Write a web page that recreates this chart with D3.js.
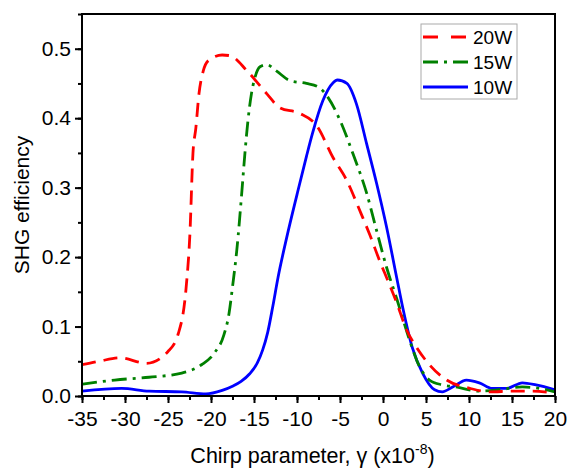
<!DOCTYPE html>
<html>
<head>
<meta charset="utf-8">
<script src="https://cdn.jsdelivr.net/npm/d3@7"></script>
<style>
	body { margin: 0; background: #fff; }
	text { font-family: "Liberation Sans", Arial, sans-serif; }
</style>
</head>
<body>
<div id="wrapper"></div>
<script>
// chirp parameter (x1e-8) and SHG efficiency
const red20X = [-35, -33, -30.6, -27.5, -25, -23.8, -22.9, -22.45, -22.1, -21.76, -21.4, -20.9, -20.3, -18.7, -17.8, -15.8, -13.5, -12, -9.7, -7.7, -5.8, -4.2, -2.7, -1.5, -0.4, 0.6, 1.6, 2.75, 3.9, 5.4, 7.4, 10.1, 12.4, 15.1, 17.4, 20];
const red20Y = [0.045, 0.05, 0.055, 0.047, 0.064, 0.09, 0.155, 0.234, 0.349, 0.386, 0.435, 0.468, 0.483, 0.491, 0.49, 0.468, 0.435, 0.415, 0.407, 0.389, 0.343, 0.31, 0.267, 0.231, 0.195, 0.165, 0.134, 0.095, 0.07, 0.045, 0.023, 0.011, 0.006, 0.007, 0.007, 0.004];

const green15X = [-35, -31.2, -27.2, -23.4, -21.1, -19.6, -18.5, -17.9, -17.5, -17.0, -16.4, -16.1, -15.7, -15.3, -14.9, -14.3, -13.5, -12.4, -10.8, -8.9, -7.4, -6.4, -5, -3.5, -1.9, -0.74, 0.42, 1.6, 3.1, 4.26, 5.4, 6.9, 8.5, 11.2, 13.5, 16.2, 18.2, 20];
const green15Y = [0.017, 0.023, 0.027, 0.033, 0.045, 0.062, 0.088, 0.119, 0.157, 0.21, 0.296, 0.343, 0.397, 0.435, 0.458, 0.474, 0.477, 0.468, 0.454, 0.45, 0.444, 0.43, 0.397, 0.349, 0.292, 0.238, 0.185, 0.14, 0.08, 0.042, 0.023, 0.016, 0.013, 0.007, 0.009, 0.013, 0.011, 0.006];

const blue10X = [-35, -30.4, -27.2, -23.4, -20.6, -18.7, -17.5, -16.5, -15.5, -14.6, -14, -13.4, -12.8, -12.2, -11.2, -10, -8.9, -8.2, -7.0, -5.8, -5.3, -4.2, -3.1, -1.9, -0.74, 0.42, 1.6, 2.3, 3.4, 4.6, 6.0, 6.9, 8.1, 9.7, 11.2, 12.7, 14.4, 16.2, 17.8, 20];
const blue10Y = [0.007, 0.011, 0.007, 0.006, 0.003, 0.008, 0.014, 0.021, 0.032, 0.048, 0.066, 0.092, 0.13, 0.171, 0.228, 0.29, 0.345, 0.378, 0.425, 0.451, 0.455, 0.45, 0.421, 0.363, 0.306, 0.243, 0.17, 0.127, 0.07, 0.033, 0.009, 0.006, 0.013, 0.023, 0.019, 0.011, 0.011, 0.019, 0.016, 0.009];

const seriesNames = ["20W", "15W", "10W"];
const seriesColors = ["#ff0000", "#008000", "#0000ff"];
const seriesDash = ["14,8", "15,6,3,6", null];

const xTicks = [-35, -30, -25, -20, -15, -10, -5, 0, 5, 10, 15, 20];
const yTicks = [0.0, 0.1, 0.2, 0.3, 0.4, 0.5];

function drawChart(){
	const dimensions = {
		width: 569,
		height: 468,
		margin: { top: 14, right: 14, bottom: 72, left: 82 }
	};
	dimensions.boundedWidth = dimensions.width - dimensions.margin.left - dimensions.margin.right;
	dimensions.boundedHeight = dimensions.height - dimensions.margin.top - dimensions.margin.bottom;

	const wrapper = d3.select("#wrapper").append("svg")
		.attr("width", dimensions.width)
		.attr("height", dimensions.height);

	const bounds = wrapper.append("g")
		.attr("transform", `translate(${dimensions.margin.left},${dimensions.margin.top})`);

	const xScaler = d3.scaleLinear().domain([-35, 20]).range([0, dimensions.boundedWidth]);
	const yScaler = d3.scaleLinear().domain([0, 0.55]).range([dimensions.boundedHeight, 0]);

	const series = [
		d3.zip(red20X, red20Y),
		d3.zip(green15X, green15Y),
		d3.zip(blue10X, blue10Y)
	];

	const lineGen = d3.line()
		.x(d => xScaler(d[0]))
		.y(d => yScaler(d[1]))
		.curve(d3.curveMonotoneX);

	// draw 10W first so dashed lines sit on top like the original
	[2, 1, 0].forEach(i => {
		bounds.append("path")
			.attr("d", lineGen(series[i]))
			.attr("fill", "none")
			.attr("stroke", seriesColors[i])
			.attr("stroke-width", 2.8)
			.attr("stroke-dasharray", seriesDash[i]);
	});

	// minor ticks
	const xMinor = d3.range(-35, 20.01, 2.5);
	const yMinor = d3.range(0, 0.551, 0.05);
	bounds.append("g")
		.attr("transform", `translate(0,${dimensions.boundedHeight})`)
		.call(d3.axisBottom(xScaler).tickValues(xMinor).tickSize(4).tickFormat(""))
		.call(g => g.select(".domain").remove())
		.selectAll("line").attr("stroke-width", 2);
	bounds.append("g")
		.call(d3.axisLeft(yScaler).tickValues(yMinor).tickSize(4).tickFormat(""))
		.call(g => g.select(".domain").remove())
		.selectAll("line").attr("stroke-width", 2);

	const axisX = bounds.append("g")
		.attr("transform", `translate(0,${dimensions.boundedHeight})`)
		.call(d3.axisBottom(xScaler).tickValues(xTicks).tickSize(7).tickPadding(8).tickFormat(d3.format("d")));
	axisX.select(".domain").remove();
	axisX.selectAll("line").attr("stroke-width", 2);
	axisX.selectAll("text").attr("font-size", 21).attr("font-family", "Liberation Sans, Arial, sans-serif")
		.text(d => d < 0 ? "-" + Math.abs(d) : d);

	const axisY = bounds.append("g")
		.call(d3.axisLeft(yScaler).tickValues(yTicks).tickSize(7).tickPadding(4).tickFormat(d3.format(".1f")));
	axisY.select(".domain").remove();
	axisY.selectAll("line").attr("stroke-width", 2);
	axisY.selectAll("text").attr("font-size", 21).attr("font-family", "Liberation Sans, Arial, sans-serif");

	// frame
	bounds.append("rect")
		.attr("width", dimensions.boundedWidth)
		.attr("height", dimensions.boundedHeight)
		.attr("fill", "none")
		.attr("stroke", "#000")
		.attr("stroke-width", 2);

	// legend
	const legend = bounds.append("g").attr("transform", `translate(${421 - dimensions.margin.left},${24 - dimensions.margin.top})`);
	legend.append("rect")
		.attr("width", 96).attr("height", 75)
		.attr("fill", "#fff").attr("stroke", "#aaa").attr("stroke-width", 1);
	seriesNames.forEach((name, i) => {
		const y = 13 + i * 25;
		legend.append("line")
			.attr("x1", 2).attr("x2", 47).attr("y1", y).attr("y2", y)
			.attr("stroke", seriesColors[i]).attr("stroke-width", 2.8)
			.attr("stroke-dasharray", i === 0 ? "15,13" : seriesDash[i]);
		legend.append("text")
			.attr("x", 52).attr("y", y).attr("dy", "0.35em")
			.attr("font-size", 19).text(name);
	});

	// axis titles
	const xLabel = wrapper.append("text")
		.attr("x", dimensions.margin.left + dimensions.boundedWidth / 2 - 6)
		.attr("y", 463)
		.attr("text-anchor", "middle")
		.attr("font-size", 21.5);
	xLabel.append("tspan").text("Chirp parameter, γ (x10");
	xLabel.append("tspan").attr("font-size", 14).attr("dy", -9).text("-8");
	xLabel.append("tspan").attr("dy", 9).text(")");

	wrapper.append("text")
		.attr("transform", `translate(29,${dimensions.margin.top + dimensions.boundedHeight / 2}) rotate(-90)`)
		.attr("text-anchor", "middle")
		.attr("font-size", 21)
		.text("SHG efficiency");
}

drawChart();
</script>
</body>
</html>
